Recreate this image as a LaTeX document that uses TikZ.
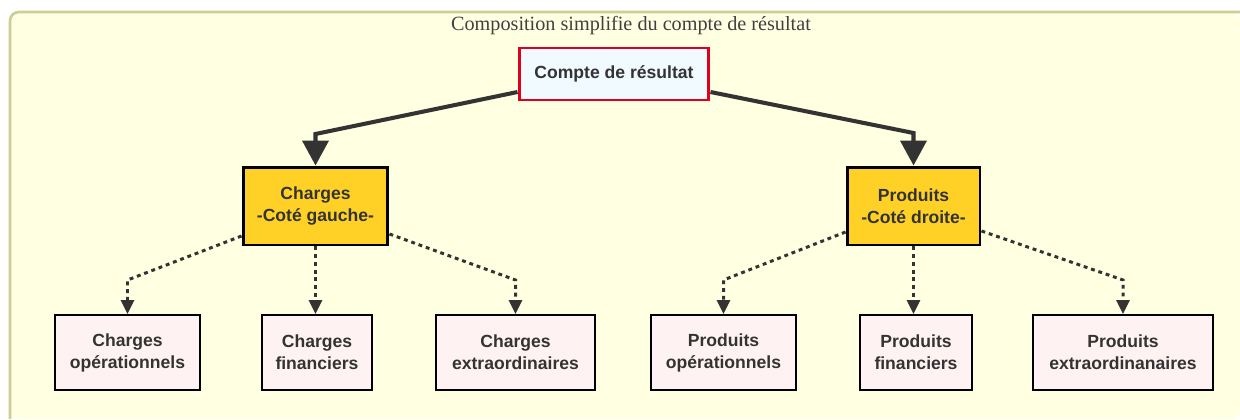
\documentclass[tikz,border=0pt]{standalone}
\usepackage{fontspec}
\setmainfont{Liberation Serif}
\setsansfont{Liberation Sans}
\usetikzlibrary{arrows.meta}
\definecolor{fondjaune}{RGB}{255,255,226}
\definecolor{bordfond}{RGB}{205,205,150}
\definecolor{rougebord}{RGB}{222,0,30}
\definecolor{bleuclair}{RGB}{240,250,255}
\definecolor{jauneor}{RGB}{255,209,38}
\definecolor{roseclair}{RGB}{255,242,242}
\definecolor{grisfonce}{RGB}{51,51,51}
\tikzset{
  racine/.style={rectangle,draw=rougebord,fill=bleuclair,line width=1.7pt,
    minimum width=3.8cm,minimum height=1.04cm,text=grisfonce,
    font=\sffamily\bfseries\fontsize{10}{12}\selectfont},
  categorie/.style={rectangle,draw=black,fill=jauneor,line width=1.7pt,
    minimum height=1.56cm,align=center,text=grisfonce,
    font=\sffamily\bfseries\fontsize{10}{12.5}\selectfont},
  feuille/.style={rectangle,draw=black,fill=roseclair,line width=1.1pt,
    minimum height=1.5cm,align=center,text=grisfonce,
    font=\sffamily\bfseries\fontsize{10}{12.5}\selectfont},
  fleche/.style={-{Triangle[width=0.52cm,length=0.5cm]},line width=2.3pt,grisfonce},
  pointille/.style={-{Triangle[width=0.26cm,length=0.28cm]},line width=1.7pt,
    grisfonce,dash pattern=on 2.2pt off 2.2pt}
}
\begin{document}
\begin{tikzpicture}[x=0.02cm,y=-0.02cm]
\useasboundingbox (0,0) rectangle (1240,419);
\fill[white] (0,0) rectangle (1240,419);
% fond du schema
\fill[fondjaune,rounded corners=5pt] (10,12) -- (1240,12) -- (1240,419) -- (10,419) -- cycle;
\draw[bordfond,line width=1.5pt,rounded corners=5pt] (1240,12) -- (10,12) -- (10,419);
\node[font=\fontsize{11.5}{13}\selectfont,text=black!75] (titre) at (631,26) {Composition simplifie du compte de résultat};
% noeuds principaux
\node[racine] (compte) at (614,74) {Compte de résultat};
\node[categorie,minimum width=2.9cm] (charges) at (315.5,206) {Charges\\-Coté gauche-};
\node[categorie,minimum width=2.66cm] (produits) at (913.5,206) {Produits\\-Coté droite-};
% feuilles
\node[feuille,minimum width=2.9cm] (chop) at (127.5,352.5) {Charges\\opérationnels};
\node[feuille,minimum width=2.2cm] (chfi) at (317,352.5) {Charges\\financiers};
\node[feuille,minimum width=3.18cm] (chex) at (515.5,352.5) {Charges\\extraordinaires};
\node[feuille,minimum width=2.9cm] (prop) at (723.5,352.5) {Produits\\opérationnels};
\node[feuille,minimum width=2.24cm] (prfi) at (916,352.5) {Produits\\financiers};
\node[feuille,minimum width=3.6cm] (prex) at (1123,352.5) {Produits\\extraordinanaires};
% liaisons pleines
\draw[fleche] ([yshift=-0.36cm]compte.west) -- (charges.north |- 0,134) -- (charges.north);
\draw[fleche] ([yshift=-0.36cm]compte.east) -- (produits.north |- 0,133) -- (produits.north);
% liaisons pointillees
\draw[pointille] ([yshift=-0.6cm]charges.west) -- (chop.north |- 0,280) -- (chop.north);
\draw[pointille] (charges.south) -- (chfi.north -| charges.south);
\draw[pointille] ([yshift=-0.56cm]charges.east) -- (chex.north |- 0,280) -- (chex.north);
\draw[pointille] ([yshift=-0.52cm]produits.west) -- (prop.north |- 0,280) -- (prop.north);
\draw[pointille] (produits.south) -- (prfi.north -| produits.south);
\draw[pointille] ([yshift=-0.5cm]produits.east) -- (prex.north |- 0,280) -- (prex.north);
\end{tikzpicture}
\end{document}
